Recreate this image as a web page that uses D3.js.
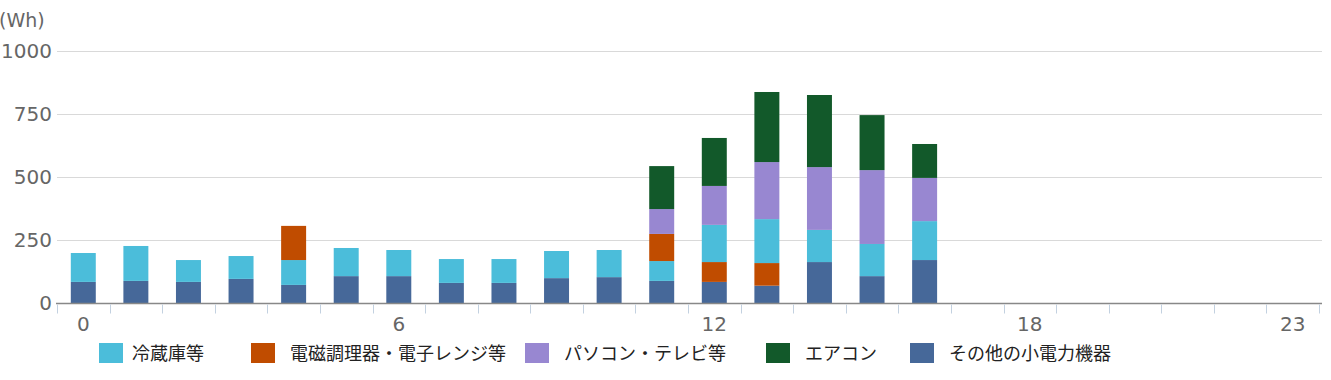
<!DOCTYPE html>
<html>
<head>
<meta charset="utf-8">
<script src="https://cdn.jsdelivr.net/npm/d3@7"></script>
<style>
  html, body { margin: 0; padding: 0; background: #fff; }
  svg { display: block; }
</style>
</head>
<body>
<svg id="chart" width="1331" height="380"></svg>
<script>
// ---- data ----
const hours = d3.range(0, 24);
const xTickLabels = [0, 6, 12, 18, 23];
const yTicks = [0, 250, 500, 750, 1000];
const unitLabel = "(Wh)";

const seriesNames = ["冷蔵庫等", "電磁調理器・電子レンジ等", "パソコン・テレビ等", "エアコン", "その他の小電力機器"];
const seriesColors = ["#4bbdda", "#c04c00", "#9887d1", "#12592a", "#466899"];

// values per hour (Wh), 0..23
const other   = [82, 86, 82, 94, 70, 105, 105, 78, 78, 97, 101, 86, 82, 67, 161, 105, 169, 0, 0, 0, 0, 0, 0, 0];
const fridge  = [115, 139, 87, 91, 99, 112, 104, 95, 95, 108, 108, 79, 148, 175, 128, 128, 155, 0, 0, 0, 0, 0, 0, 0];
// cooking stacked beneath the fridge segment (hours 12, 13) / above it (hours 4, 11)
const cookBelow = [0, 0, 0, 0, 0, 0, 0, 0, 0, 0, 0, 0, 79, 90, 0, 0, 0, 0, 0, 0, 0, 0, 0, 0];
const cookAbove = [0, 0, 0, 0, 136, 0, 0, 0, 0, 0, 0, 108, 0, 0, 0, 0, 0, 0, 0, 0, 0, 0, 0, 0];
const pcTv    = [0, 0, 0, 0, 0, 0, 0, 0, 0, 0, 0, 99, 155, 227, 250, 294, 172, 0, 0, 0, 0, 0, 0, 0];
const aircon  = [0, 0, 0, 0, 0, 0, 0, 0, 0, 0, 0, 171, 191, 279, 287, 219, 135, 0, 0, 0, 0, 0, 0, 0];

// ---- layout ----
const svg = d3.select("#chart");
const plotLeft = 57, plotRight = 1319, plotTop = 51.3, plotBottom = 302.5, axisY = 303.5;

const x = d3.scaleBand().domain(hours).range([plotLeft, plotRight]).paddingInner(0.525).paddingOuter(0.2625);
const y = d3.scaleLinear().domain([0, 1000]).range([plotBottom, plotTop]);

// gridlines
svg.append("g").selectAll("line").data(yTicks.filter(v => v > 0)).join("line")
  .attr("x1", plotLeft).attr("x2", 1322)
  .attr("y1", d => Math.round(y(d)) + 0.5).attr("y2", d => Math.round(y(d)) + 0.5)
  .attr("stroke", "#d9d9d9").attr("stroke-width", 1);

// y labels
svg.append("g").selectAll("text").data(yTicks).join("text")
  .attr("x", 52).attr("y", d => y(d) + 7)
  .attr("text-anchor", "end")
  .attr("font-family", "DejaVu Sans, Verdana, sans-serif")
  .attr("font-size", 20).attr("fill", "#666")
  .text(d => d);

svg.append("text").attr("x", -1).attr("y", 27)
  .attr("font-family", "DejaVu Sans, Verdana, sans-serif")
  .attr("font-size", 19).attr("fill", "#666").text(unitLabel);

// stacked bars
const rows = hours.map((h, i) => ({
  hour: h, other: other[i], cookBelow: cookBelow[i], fridge: fridge[i],
  cookAbove: cookAbove[i], pcTv: pcTv[i], aircon: aircon[i]
}));
const keys = ["other", "cookBelow", "fridge", "cookAbove", "pcTv", "aircon"];
const keyColor = {
  other: seriesColors[4], cookBelow: seriesColors[1], fridge: seriesColors[0],
  cookAbove: seriesColors[1], pcTv: seriesColors[2], aircon: seriesColors[3]
};
const stacked = d3.stack().keys(keys)(rows);

svg.append("g").selectAll("g").data(stacked).join("g")
  .attr("fill", d => keyColor[d.key])
  .selectAll("rect").data(d => d.filter(s => s[1] - s[0] > 0)).join("rect")
  .attr("x", d => x(d.data.hour))
  .attr("width", x.bandwidth())
  .attr("y", d => y(d[1]))
  .attr("height", d => (d[0] === 0 ? axisY : y(d[0])) - y(d[1]));

// x axis line
svg.append("line").attr("x1", plotLeft - 1).attr("x2", 1322)
  .attr("y1", axisY).attr("y2", axisY)
  .attr("stroke", "#888").attr("stroke-width", 1.5);

// x tick marks at band boundaries
const step = x.step();
const bounds = d3.range(0, hours.length + 1).map(i => plotLeft + i * step);
svg.append("g").selectAll("line").data(bounds).join("line")
  .attr("x1", d => Math.round(d) + 0.5).attr("x2", d => Math.round(d) + 0.5)
  .attr("y1", axisY + 1).attr("y2", axisY + 10)
  .attr("stroke", "#c3d1e0").attr("stroke-width", 1);

// x labels
svg.append("g").selectAll("text").data(xTickLabels).join("text")
  .attr("x", d => x(d) + x.bandwidth() / 2)
  .attr("y", 331)
  .attr("text-anchor", "middle")
  .attr("font-family", "DejaVu Sans, Verdana, sans-serif")
  .attr("font-size", 20).attr("fill", "#666")
  .text(d => d);

// legend
const legendX = [99, 251, 525, 766, 910];
const lg = svg.append("g").selectAll("g").data(seriesNames).join("g")
  .attr("transform", (d, i) => `translate(${legendX[i]},343)`);
lg.append("rect").attr("width", 24).attr("height", 20).attr("fill", (d, i) => seriesColors[i]);
lg.append("text").attr("x", (d, i) => i === 0 ? 33 : 39).attr("y", 17)
  .attr("font-family", "Noto Sans CJK JP, sans-serif")
  .attr("font-size", 18).attr("fill", "#222")
  .text(d => d);
</script>
</body>
</html>
